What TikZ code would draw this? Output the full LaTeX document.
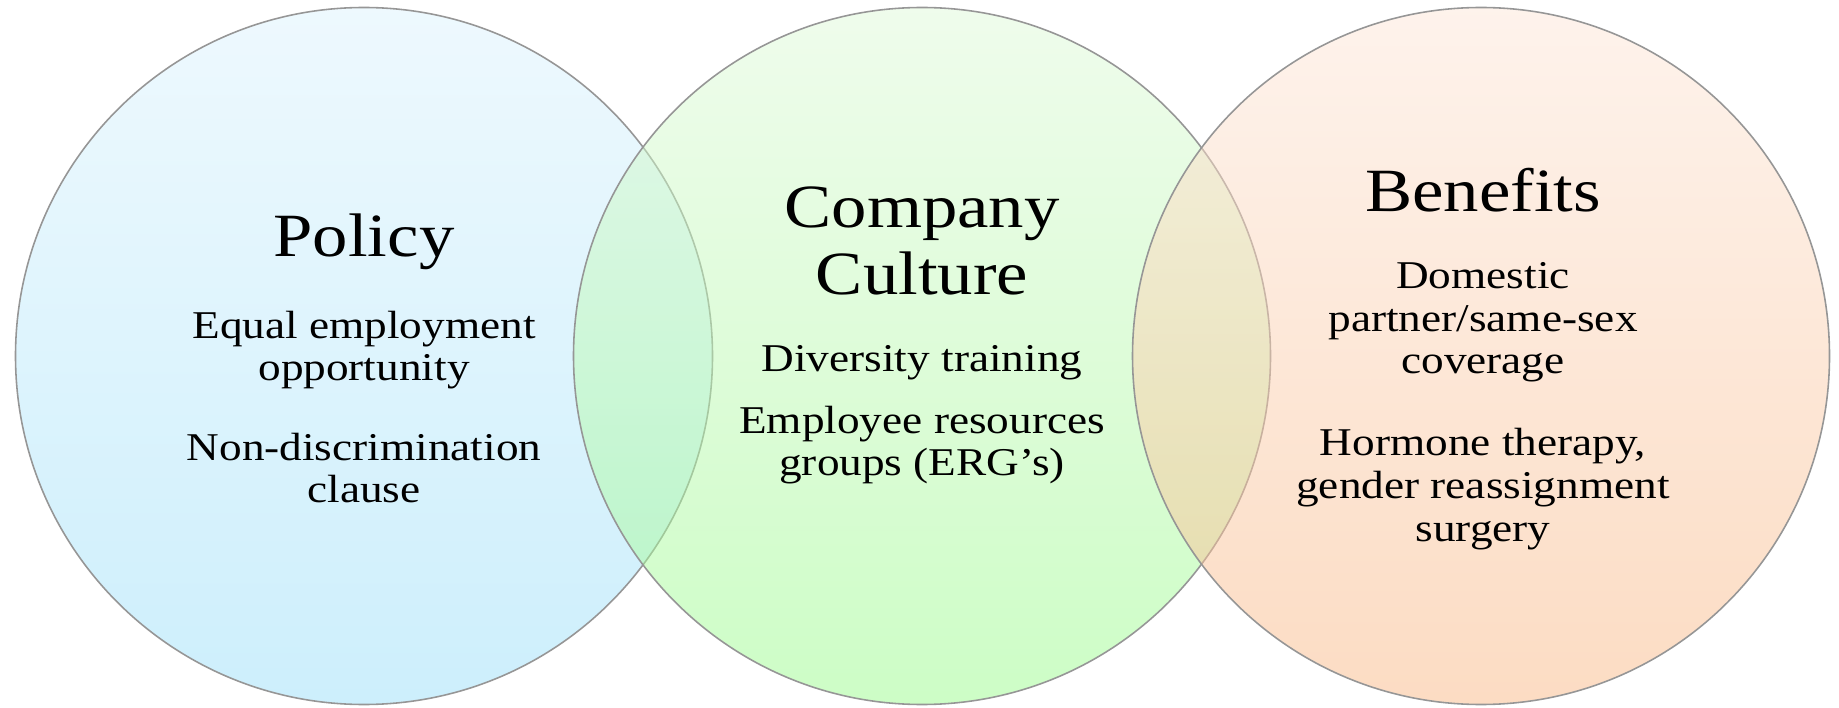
\documentclass[tikz,border=0pt]{standalone}
\usepackage{fontspec}
\setmainfont{Liberation Serif}[FakeStretch=1.15]
\usepackage{xcolor}
\definecolor{policytop}{RGB}{221, 243, 253}
\definecolor{policybot}{RGB}{155, 223, 249}
\definecolor{culturetop}{RGB}{223, 249, 217}
\definecolor{culturebot}{RGB}{155, 251, 141}
\definecolor{benefittop}{RGB}{253, 231, 217}
\definecolor{benefitbot}{RGB}{249, 185, 135}
\definecolor{rimgray}{RGB}{150, 150, 150}

\begin{document}
\begin{tikzpicture}[
        venn/.style={circle, minimum size=6.97cm, inner sep=0pt, draw=rimgray, line width=0.45pt, fill opacity=0.5},
        heading/.style={anchor=base, align=center, font=\fontsize{17.5}{19.3}\selectfont},
        item/.style={anchor=base, align=center, font=\fontsize{11.2}{12.2}\selectfont}
    ]
        \useasboundingbox (0,0) rectangle (18.39,7.07);

        % Circles
        \foreach \name/\x/\top/\bot in {policy/3.64/policytop/policybot,culture/9.22/culturetop/culturebot,benefits/14.81/benefittop/benefitbot}
        {
            \node[venn, top color=\top, bottom color=\bot] (\name) at (\x,3.51) {};
        }

        % Policy (base = last line)
        \node[heading] (policyhead) at (3.64,4.50) {Policy};
        \node[item] (eeo) at (3.64,3.26) {Equal employment\\opportunity};
        \node[item] (nondisc) at (3.64,2.04) {Non-discrimination\\clause};

        % Company culture
        \node[heading] (culturehead) at (9.22,4.12) {Company\\Culture};
        \node[item] (training) at (9.22,3.35) {Diversity training};
        \node[item] (erg) at (9.22,2.31) {Employee resources\\groups (ERG’s)};

        % Benefits
        \node[heading] (benefitshead) at (14.83,4.95) {Benefits};
        \node[item] (partner) at (14.83,3.33) {Domestic\\partner/same-sex\\coverage};
        \node[item] (hormone) at (14.83,1.66) {Hormone therapy,\\gender reassignment\\surgery};
    \end{tikzpicture}
\end{document}
